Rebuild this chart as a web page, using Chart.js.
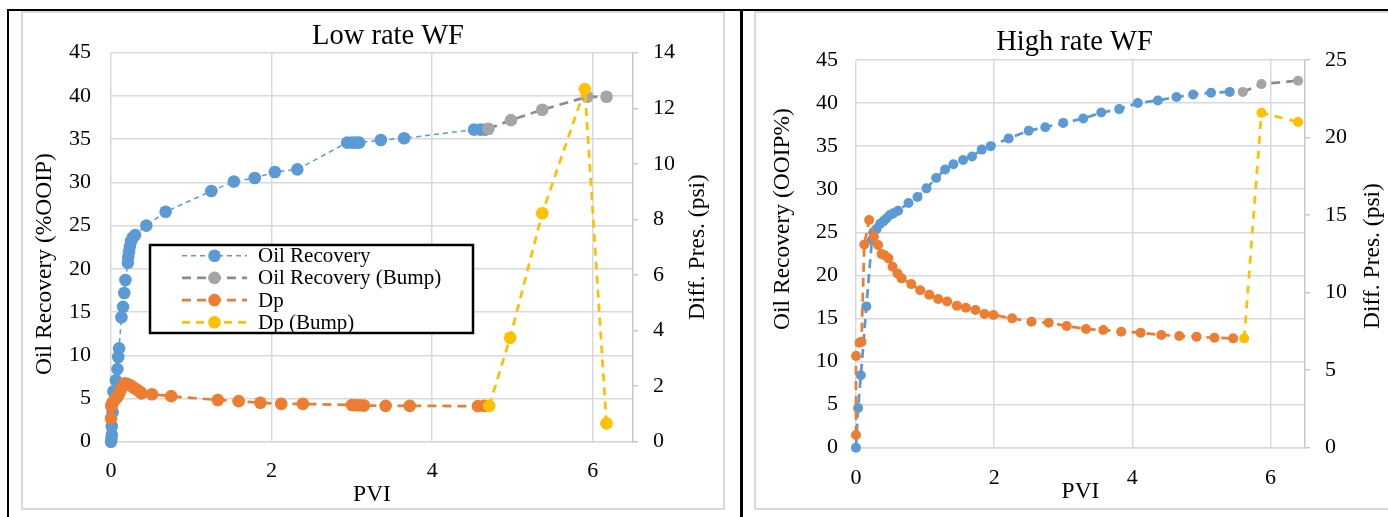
<!DOCTYPE html>
<html>
<head>
<meta charset="utf-8">
<script src="https://cdn.jsdelivr.net/npm/chart.js@4.4.1/dist/chart.umd.min.js"></script>
<style>
  html, body { margin: 0; padding: 0; background: #fff; }
  body { width: 1388px; height: 517px; position: relative; overflow: hidden; }
  .blk { position: absolute; background: #000; }
  .frame { position: absolute; border: 2px solid #d9d9d9; box-sizing: border-box; }
  canvas { position: absolute; }
</style>
</head>
<body>
<div class="blk" style="left:7px;top:9px;width:1381px;height:2px"></div>
<div class="blk" style="left:7px;top:9px;width:2px;height:508px"></div>
<div class="blk" style="left:740px;top:9px;width:3px;height:508px"></div>
<div class="frame" style="left:21px;top:11px;width:704px;height:499px"></div>
<div class="frame" style="left:754px;top:11px;width:640px;height:499px"></div>
<canvas id="low" width="702" height="498" style="left:22px;top:11px;width:702px;height:498px"></canvas>
<canvas id="high" width="633" height="498" style="left:755px;top:11px;width:633px;height:498px"></canvas>
<script>
// ---- Low rate WF ----
const lowPviOil = [0, 0.005, 0.01, 0.01, 0.02, 0.03, 0.06, 0.08, 0.09, 0.10, 0.13, 0.15, 0.165, 0.18, 0.21, 0.215,
  0.225, 0.235, 0.25, 0.27, 0.30, 0.44, 0.68, 1.25, 1.53, 1.79, 2.04, 2.32, 2.94, 3.0, 3.05, 3.09, 3.36, 3.65, 4.52, 4.6, 4.66];
const lowOil = [0, 0.3, 0.8, 1.8, 3.4, 5.8, 7.1, 8.4, 9.8, 10.8, 14.4, 15.6, 17.2, 18.7, 20.7, 21.4,
  22.0, 22.6, 23.2, 23.6, 23.9, 25.0, 26.6, 29.0, 30.1, 30.5, 31.2, 31.5, 34.6, 34.6, 34.6, 34.6, 34.9, 35.1, 36.1, 36.1, 36.1];
const lowPviOilBump = [4.70, 4.98, 5.37, 5.93, 6.17];
const lowOilBump = [36.2, 37.2, 38.4, 39.9, 39.9];
const lowPviDp = [0, 0.005, 0.01, 0.02, 0.04, 0.06, 0.08, 0.10, 0.12, 0.15, 0.17, 0.20, 0.24, 0.28, 0.32, 0.36,
  0.38, 0.51, 0.75, 1.33, 1.59, 1.86, 2.12, 2.39, 3.0, 3.05, 3.10, 3.15, 3.42, 3.72, 4.57, 4.65];
const lowDp = [0.84, 1.28, 1.35, 1.40, 1.48, 1.55, 1.62, 1.72, 1.85, 2.0, 2.1, 2.08, 2.03, 1.95, 1.88, 1.8,
  1.74, 1.71, 1.64, 1.5, 1.46, 1.40, 1.36, 1.36, 1.32, 1.31, 1.31, 1.30, 1.29, 1.29, 1.28, 1.29];
const lowPviDpBump = [4.71, 4.97, 5.37, 5.90, 6.17];
const lowDpBump = [1.29, 3.74, 8.22, 12.69, 0.66];

// ---- High rate WF ----
const highPviOil = [0, 0.03, 0.07, 0.15, 0.23, 0.25, 0.30, 0.35, 0.40, 0.44, 0.49, 0.54, 0.61, 0.76, 0.89, 1.02,
  1.16, 1.29, 1.41, 1.55, 1.68, 1.82, 1.95, 2.21, 2.50, 2.74, 3.00, 3.29, 3.55, 3.81, 4.08, 4.37, 4.64, 4.88, 5.14, 5.41];
const highOil = [0, 4.6, 8.4, 16.4, 24.1, 25.0, 25.4, 26.0, 26.3, 26.6, 27.0, 27.2, 27.5, 28.4, 29.1, 30.1,
  31.3, 32.3, 32.9, 33.4, 33.8, 34.6, 35.0, 35.9, 36.8, 37.2, 37.7, 38.2, 38.9, 39.3, 40.0, 40.3, 40.7, 41.0, 41.2, 41.3];
const highPviOilBump = [5.60, 5.87, 6.40];
const highOilBump = [41.3, 42.2, 42.6];
const highPviDp = [0, 0, 0.05, 0.08, 0.12, 0.19, 0.26, 0.32, 0.37, 0.41, 0.47, 0.53, 0.60, 0.66, 0.80, 0.93, 1.06,
  1.19, 1.32, 1.46, 1.59, 1.73, 1.86, 1.99, 2.26, 2.54, 2.79, 3.05, 3.33, 3.58, 3.84, 4.12, 4.42, 4.68, 4.93, 5.19, 5.46];
const highDp = [0.82, 5.91, 6.77, 6.84, 13.1, 14.68, 13.6, 13.07, 12.49, 12.42, 12.21, 11.67, 11.24, 10.92, 10.55, 10.15, 9.87,
  9.59, 9.43, 9.16, 9.03, 8.88, 8.62, 8.56, 8.34, 8.12, 8.06, 7.85, 7.65, 7.59, 7.48, 7.42, 7.27, 7.20, 7.16, 7.09, 7.05];
const highPviDpBump = [5.62, 5.87, 6.40];
const highDpBump = [7.05, 21.6, 21.0];

const seriesNames = ['Oil Recovery', 'Oil Recovery (Bump)', 'Dp', 'Dp (Bump)'];

const SERIF = "'Liberation Serif', 'Times New Roman', serif";
const GRID = '#d9d9d9';
const BLUE = '#5b9bd5';
const ORANGE = '#ed7d31';
const GRAY_LINE = '#8c8c8c';
const GRAY_PT = '#a5a5a5';
const YELLOW = '#ffc000';

const toPoints = (xs, ys) => xs.map((x, i) => ({ x, y: ys[i] }));

const makeSet = (label, xs, ys, color, pointColor, axis, width, dash, radius, order) => ({
  label,
  data: toPoints(xs, ys),
  yAxisID: axis,
  showLine: true,
  clip: false,
  borderColor: color,
  borderWidth: width,
  borderDash: dash,
  backgroundColor: pointColor,
  pointBackgroundColor: pointColor,
  pointBorderColor: pointColor,
  pointBorderWidth: 0,
  pointRadius: radius,
  tension: 0,
  order,
});

// titles + legend drawn on top of the plot
const makeOverlay = (cfg) => ({
  id: 'overlay',
  afterDraw(chart) {
    const { ctx } = chart;
    ctx.save();
    ctx.fillStyle = '#000';
    ctx.textAlign = 'center';
    ctx.textBaseline = 'alphabetic';
    ctx.font = `28.5px ${SERIF}`;
    ctx.fillText(cfg.title, cfg.titleX, cfg.titleY);

    ctx.font = `23.5px ${SERIF}`;
    ctx.textBaseline = 'middle';
    cfg.sideTitles.forEach((t) => {
      ctx.save();
      ctx.translate(t.x, t.y);
      ctx.rotate(-Math.PI / 2);
      ctx.fillText(t.text, 0, 0);
      ctx.restore();
    });

    const lg = cfg.legend;
    if (lg) {
      ctx.fillStyle = '#fff';
      ctx.fillRect(lg.left, lg.top, lg.width, lg.height);
      ctx.strokeStyle = '#000';
      ctx.lineWidth = 2.5;
      ctx.strokeRect(lg.left, lg.top, lg.width, lg.height);
      ctx.font = `21px ${SERIF}`;
      ctx.textAlign = 'left';
      chart.data.datasets.forEach((ds, i) => {
        const y = lg.firstRow + i * lg.rowGap;
        ctx.beginPath();
        ctx.setLineDash(ds.borderDash);
        ctx.strokeStyle = ds.borderColor;
        ctx.lineWidth = ds.borderWidth;
        ctx.moveTo(lg.lineX1, y);
        ctx.lineTo(lg.lineX2, y);
        ctx.stroke();
        ctx.setLineDash([]);
        ctx.beginPath();
        ctx.fillStyle = ds.pointBackgroundColor;
        ctx.arc((lg.lineX1 + lg.lineX2) / 2, y, ds.pointRadius, 0, Math.PI * 2);
        ctx.fill();
        ctx.fillStyle = '#000';
        ctx.fillText(ds.label, lg.textX, y + 1);
      });
    }
    ctx.restore();
  },
});

const axisFont = { family: SERIF, size: 22 };

const buildOptions = (m) => ({
  responsive: false,
  animation: false,
  layout: { padding: { top: m.top, left: 0, right: 0, bottom: 0 } },
  plugins: { legend: { display: false }, tooltip: { enabled: false } },
  scales: {
    x: {
      type: 'linear',
      min: 0,
      max: 6.5,
      ticks: { stepSize: 2, includeBounds: false, padding: m.xPad, color: '#000', font: axisFont },
      grid: { color: GRID, lineWidth: 1.5, drawTicks: false },
      border: { display: true, color: GRID, width: 1.5 },
      title: { display: true, text: 'PVI', color: '#000', font: { family: SERIF, size: 23.5 }, padding: { top: 0, bottom: m.pviPad } },
      afterFit: (s) => { s.height = m.bottom; },
    },
    y: {
      position: 'left',
      min: 0,
      max: 45,
      ticks: { stepSize: 5, padding: m.yPad, color: '#000', font: axisFont },
      grid: { color: GRID, lineWidth: 1.5, drawTicks: false },
      border: { display: false },
      afterFit: (s) => { s.width = m.left; },
    },
    y2: {
      position: 'right',
      min: 0,
      max: m.y2Max,
      ticks: { stepSize: m.y2Step, padding: 15, color: '#000', font: axisFont },
      grid: { drawOnChartArea: false, drawTicks: true, tickLength: 5, color: '#c8c8c8', lineWidth: 1.5 },
      border: { display: true, color: '#c8c8c8', width: 1.5 },
      afterFit: (s) => { s.width = m.right; },
    },
  },
});

new Chart(document.getElementById('low'), {
  type: 'scatter',
  data: {
    datasets: [
      makeSet(seriesNames[0], lowPviOil, lowOil, BLUE, BLUE, 'y', 1.5, [5, 4], 6.3, 4),
      makeSet(seriesNames[1], lowPviOilBump, lowOilBump, GRAY_LINE, GRAY_PT, 'y', 2.75, [9, 6], 6.3, 3),
      makeSet(seriesNames[2], lowPviDp, lowDp, ORANGE, ORANGE, 'y2', 2.75, [9, 6], 6.3, 2),
      makeSet(seriesNames[3], lowPviDpBump, lowDpBump, YELLOW, YELLOW, 'y2', 2.75, [8, 6], 6.3, 1),
    ],
  },
  options: buildOptions({ top: 41.7, left: 89, right: 91, bottom: 67.3, xPad: 16, yPad: 20, pviPad: 0, y2Max: 14, y2Step: 2 }),
  plugins: [makeOverlay({
    title: 'Low rate WF',
    titleX: 366,
    titleY: 33.3,
    sideTitles: [
      { text: 'Oil Recovery (%OOIP)', x: 23, y: 253 },
      { text: 'Diff. Pres. (psi)', x: 676, y: 236 },
    ],
    legend: { left: 128, top: 234, width: 323, height: 88, firstRow: 244.7, rowGap: 22.2, lineX1: 160, lineX2: 225, textX: 236 },
  })],
});

new Chart(document.getElementById('high'), {
  type: 'scatter',
  data: {
    datasets: [
      makeSet(seriesNames[0], highPviOil, highOil, BLUE, BLUE, 'y', 2.75, [9, 6], 5, 4),
      makeSet(seriesNames[1], highPviOilBump, highOilBump, GRAY_LINE, GRAY_PT, 'y', 2.75, [9, 6], 5, 3),
      makeSet(seriesNames[2], highPviDp, highDp, ORANGE, ORANGE, 'y2', 2.75, [9, 6], 5, 2),
      makeSet(seriesNames[3], highPviDpBump, highDpBump, YELLOW, YELLOW, 'y2', 2.75, [8, 7], 5, 1),
    ],
  },
  options: buildOptions({ top: 49, left: 101, right: 83, bottom: 61.3, xPad: 17, yPad: 18, pviPad: 3, y2Max: 25, y2Step: 5 }),
  plugins: [makeOverlay({
    title: 'High rate WF',
    titleX: 319.5,
    titleY: 39,
    sideTitles: [
      { text: 'Oil Recovery (OOIP%)', x: 28, y: 208 },
      { text: 'Diff. Pres. (psi)', x: 618, y: 245 },
    ],
    legend: null,
  })],
});
</script>
</body>
</html>
